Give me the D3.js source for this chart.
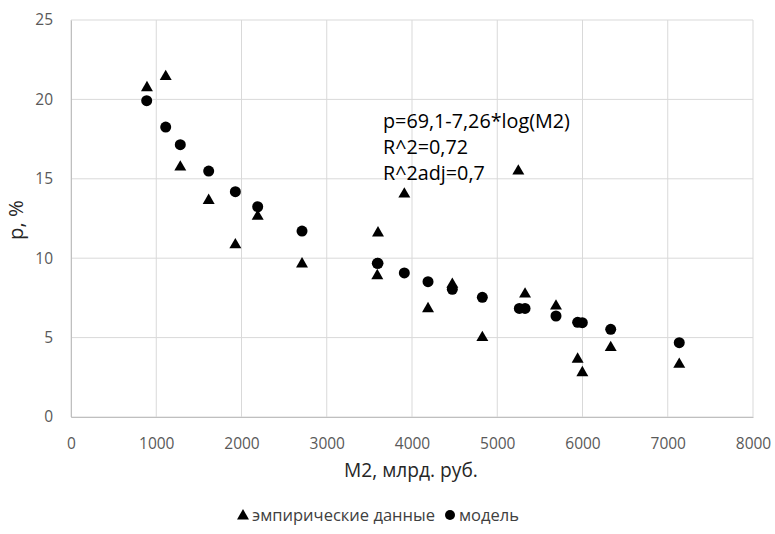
<!DOCTYPE html>
<html>
<head>
<meta charset="utf-8">
<script src="https://cdn.jsdelivr.net/npm/d3@7"></script>
<style>
  body { margin: 0; background: #fff; }
  text { font-family: "Open Sans", sans-serif; }
</style>
</head>
<body>
<div id="chart"></div>
<script>
// data
var empX = [891, 1111, 1282, 1615, 1928, 2190, 2710, 3601, 3593, 3910, 4188, 4473, 4825, 5247, 5326, 5689, 5943, 5998, 6331, 7135];
var empY = [20.8, 21.5, 15.8, 13.7, 10.9, 12.7, 9.7, 11.65, 8.96, 14.1, 6.88, 8.42, 5.06, 15.55, 7.8, 7.05, 3.7, 2.85, 4.43, 3.38];
var modX = [888, 1111, 1282, 1615, 1928, 2190, 2710, 3593, 3601, 3910, 4188, 4473, 4825, 5259, 5326, 5689, 5943, 5998, 6331, 7135];
var modY = [19.92, 18.26, 17.15, 15.49, 14.19, 13.24, 11.71, 9.68, 9.68, 9.07, 8.52, 8.04, 7.54, 6.84, 6.84, 6.36, 5.96, 5.94, 5.52, 4.68];
var xTicks = [0, 1000, 2000, 3000, 4000, 5000, 6000, 7000, 8000];
var yTicks = [0, 5, 10, 15, 20, 25];
var noteLines = ["p=69,1-7,26*log(M2)", "R^2=0,72", "R^2adj=0,7"];

var W = 775, H = 534;
var margin = {left: 71, top: 20, right: 22, bottom: 117};

// shrink/grow a text so it spans about the same width as in the picture
function fitWidth(sel, target) {
  var w = sel.node().getComputedTextLength();
  var fs = parseFloat(sel.style("font-size"));
  sel.style("font-size", (fs * target / w).toFixed(2) + "px");
}

var svg = d3.select("#chart").append("svg").attr("width", W).attr("height", H);

var x = d3.scaleLinear().domain([0, 8000]).range([margin.left, W - margin.right]);
var y = d3.scaleLinear().domain([0, 25]).range([H - margin.bottom, margin.top]);

// grid
svg.append("g").selectAll("line.vg").data(xTicks).enter().append("line")
   .attr("x1", function(d) { return x(d); }).attr("x2", function(d) { return x(d); })
   .attr("y1", y(0)).attr("y2", y(25))
   .style("stroke", "#d9d9d9").style("stroke-width", 1);
svg.append("g").selectAll("line.hg").data(yTicks).enter().append("line")
   .attr("x1", x(0)).attr("x2", x(8000))
   .attr("y1", function(d) { return y(d); }).attr("y2", function(d) { return y(d); })
   .style("stroke", "#d9d9d9").style("stroke-width", 1);

// axes
var xAxis = svg.append("g").attr("transform", "translate(0," + y(0) + ")")
   .call(d3.axisBottom(x).tickValues(xTicks).tickSize(0).tickPadding(21).tickFormat(d3.format("d")));
var yAxis = svg.append("g").attr("transform", "translate(" + x(0) + ",0)")
   .call(d3.axisLeft(y).tickValues(yTicks).tickSize(0).tickPadding(18));
[xAxis, yAxis].forEach(function(a) {
  a.select(".domain").style("stroke", "#bfbfbf");
  a.selectAll("text").style("font-size", "15.5px").style("fill", "#595959").style("font-family", "'Open Sans', sans-serif");
});

// axis titles
var xt = svg.append("text").attr("x", 411).attr("y", 477).attr("text-anchor", "middle")
   .style("font-size", "17px").style("fill", "#262626").text("M2, млрд. руб.");
fitWidth(xt, 134);
var yt = svg.append("text").attr("transform", "translate(23,220) rotate(-90)").attr("text-anchor", "middle")
   .style("font-size", "17px").style("fill", "#262626").text("p, %");
fitWidth(yt, 40);

var tri = d3.symbol().type(d3.symbolTriangle).size(62);

// empirical
svg.append("g").selectAll("path").data(empX).enter().append("path")
   .attr("d", tri)
   .attr("transform", function(d, i) { return "translate(" + x(d) + "," + (y(empY[i]) + 1) + ")"; })
   .style("fill", "#000");

// model
svg.append("g").selectAll("circle").data(modX).enter().append("circle")
   .attr("cx", function(d) { return x(d); })
   .attr("cy", function(d, i) { return y(modY[i]); })
   .attr("r", 5.5)
   .style("fill", "#000");

// regression note
var notes = svg.append("g").selectAll("text").data(noteLines).enter().append("text")
   .attr("x", 383).attr("y", function(d, i) { return 128 + i * 26; })
   .style("font-size", "17px").style("fill", "#000").text(function(d) { return d; });
fitWidth(d3.select(notes.nodes()[0]), 187);
notes.style("font-size", d3.select(notes.nodes()[0]).style("font-size"));

// legend
var leg = svg.append("g").attr("transform", "translate(0,515)");
leg.append("path").attr("d", tri).attr("transform", "translate(243,1)").style("fill", "#000");
var l1 = leg.append("text").attr("x", 252).attr("y", 5.5).style("font-size", "15px").style("fill", "#404040").text("эмпирические данные");
fitWidth(l1, 183);
leg.append("circle").attr("cx", 450).attr("cy", 0).attr("r", 5).style("fill", "#000");
var l2 = leg.append("text").attr("x", 459).attr("y", 5.5).style("font-size", "15px").style("fill", "#404040").text("модель");
l2.style("font-size", l1.style("font-size"));
</script>
</body>
</html>
